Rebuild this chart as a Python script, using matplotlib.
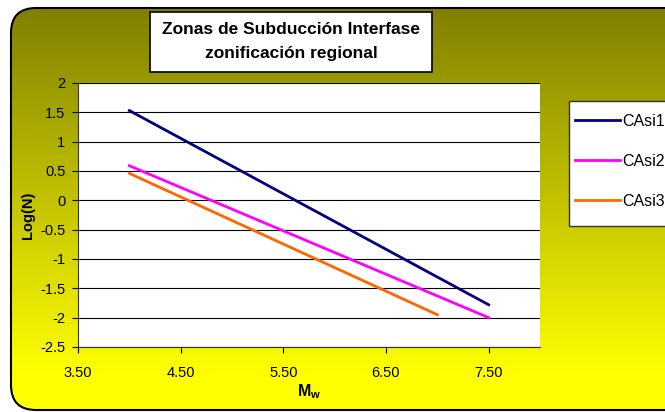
import matplotlib
matplotlib.use("Agg")
import matplotlib.pyplot as plt
import numpy as np
from matplotlib.patches import FancyBboxPatch, Rectangle

plt.rcParams['font.family'] = ['Liberation Sans', 'DejaVu Sans']
plt.rcParams['font.size'] = 10
plt.rcParams['mathtext.fontset'] = 'custom'
plt.rcParams['mathtext.bf'] = 'Liberation Sans:bold'
plt.rcParams['mathtext.rm'] = 'Liberation Sans'

# data
mw_1 = [4.0, 7.5]
logn_1 = [1.53, -1.78]
mw_2 = [4.0, 7.5]
logn_2 = [0.59, -2.0]
mw_3 = [4.0, 7.0]
logn_3 = [0.46, -1.95]
names = ["CAsi1", "CAsi2", "CAsi3"]
colors = ["#000080", "#FF00FF", "#FF6600"]

W, H = 665, 412
fig = plt.figure(figsize=(W / 100, H / 100), dpi=100)
fig.patch.set_facecolor('white')

# background: rounded box with olive -> yellow gradient
bg = fig.add_axes([0, 0, 1, 1])
bg.set_xlim(0, W)
bg.set_ylim(H, 0)
bg.axis('off')
t = np.linspace(0, 1, 256).reshape(-1, 1)
grad = np.zeros((256, 1, 3))
grad[..., 0] = (128 + 127 * np.clip(t * 1.1, 0, 1)) / 255
grad[..., 1] = grad[..., 0]
grad[..., 2] = 0
im = bg.imshow(grad, extent=[10, 700, 410, 8], aspect='auto', interpolation='bilinear')
frame = FancyBboxPatch((11, 8), 690, 402, boxstyle="round,pad=0,rounding_size=25",
                       fc='none', ec='black', lw=1.5)
bg.add_patch(frame)
im.set_clip_path(frame)

# title box
bg.add_patch(Rectangle((150, 12), 282, 60, fc='white', ec='black', lw=1.2))
bg.text(291, 29, "Zonas de Subducción Interfase", ha='center', va='center',
        fontsize=12.5, fontweight='bold')
bg.text(291, 53, "zonificación regional", ha='center', va='center',
        fontsize=12.5, fontweight='bold')

# legend box (legend itself drawn without frame)
bg.add_patch(Rectangle((569, 101), 140, 125, fc='white', ec='#333333', lw=1))

# main plot
ax = fig.add_axes([78 / W, 1 - 347 / H, (540 - 78) / W, (347 - 83) / H])
ax.set_facecolor('white')
ax.plot(mw_1, logn_1, color=colors[0], lw=2, label=names[0])
ax.plot(mw_2, logn_2, color=colors[1], lw=2, label=names[1])
ax.plot(mw_3, logn_3, color=colors[2], lw=2, label=names[2])

ax.set_xlim(3.5, 8.0)
ax.set_ylim(-2.5, 2)
ax.set_xticks([3.5, 4.5, 5.5, 6.5, 7.5])
ax.set_xticklabels(["3.50", "4.50", "5.50", "6.50", "7.50"])
ax.set_yticks(np.arange(-2.5, 2.01, 0.5))
ax.set_yticklabels(["-2.5", "-2", "-1.5", "-1", "-0.5", "0", "0.5", "1", "1.5", "2"])
ax.yaxis.grid(True, color='black', lw=0.8)
ax.set_axisbelow(True)
ax.spines['top'].set_visible(False)
ax.spines['right'].set_visible(False)
ax.spines['left'].set_color('#333333')
ax.spines['bottom'].set_color('#333333')
ax.tick_params(direction='out', length=4, width=0.8, labelsize=10.5)
ax.tick_params(axis='x', pad=10)
ax.tick_params(axis='y', pad=5)

ax.set_xlabel(r"$\mathbf{M_w}$", fontsize=11.5, labelpad=1)
ax.set_ylabel("Log(N)", fontsize=10.5, fontweight='bold', labelpad=4)

leg = ax.legend(loc='upper left', bbox_to_anchor=(575 / W, 1 - 114 / H),
                bbox_transform=fig.transFigure, borderaxespad=0, borderpad=0,
                fontsize=11.5, handlelength=2.8, labelspacing=1.55,
                handletextpad=0.15, frameon=False)

fig.savefig('out.png', dpi=100)
